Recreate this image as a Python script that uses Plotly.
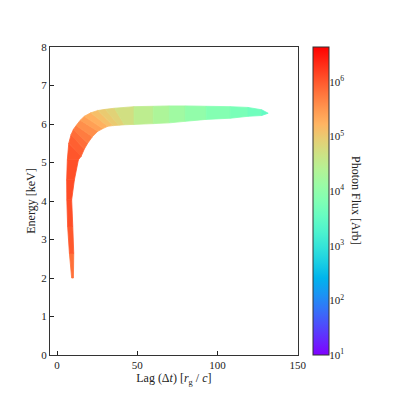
import numpy as np
import plotly.graph_objects as go

# Band of photon arrival: outer (upper/left) and inner (lower/right) edges
# one station per pair of edge points.
outer_lag = [9.1, 7.7, 6.6, 6.1, 6.0, 6.4, 7.3, 8.7, 10.2, 11.9, 14.5, 17.0, 21.0,
             25.4, 30.0, 35.8, 48.0, 60.0, 70.0, 80.0, 93.0, 108.0, 119.0, 127.5, 131.6]
outer_energy = [2.0, 2.64, 3.34, 4.03, 4.55, 5.07, 5.5, 5.72, 5.86, 5.96, 6.10, 6.20, 6.29,
                6.35, 6.38, 6.41, 6.45, 6.46, 6.47, 6.47, 6.46, 6.45, 6.43, 6.37, 6.28]
inner_lag = [10.2, 10.4, 9.8, 9.1, 10.8, 13.3, 15.0, 17.0, 19.1, 22.0, 25.4, 28.5, 31.6,
             35.0, 38.5, 42.0, 48.0, 60.0, 70.0, 80.0, 93.0, 108.0, 119.0, 127.5, 131.6]
inner_energy = [2.0, 2.64, 3.34, 4.03, 4.55, 5.07, 5.16, 5.35, 5.50, 5.67, 5.81, 5.88, 5.94,
                5.96, 5.97, 5.98, 5.99, 6.01, 6.03, 6.07, 6.12, 6.15, 6.20, 6.22, 6.28]
# log10 photon flux along the band
log_flux = [5.7, 5.95, 6.05, 6.1, 6.1, 6.05, 6.0, 5.9, 5.8, 5.65, 5.5, 5.35, 5.2,
            5.05, 4.95, 4.85, 4.6, 4.4, 4.25, 4.1, 3.95, 3.8, 3.7, 3.6, 3.4]

cbar_min, cbar_max = 1.0, 6.64
cbar_ticks = [1, 2, 3, 4, 5, 6]
cbar_ticktext = ["10<sup>%d</sup>" % n for n in cbar_ticks]


def rainbow(t):
    # matplotlib 'rainbow' colormap
    r = min(1.0, abs(2 * t - 0.5))
    g = np.sin(t * np.pi)
    b = np.cos(t * np.pi / 2)
    return "rgb(%d,%d,%d)" % (round(255 * r), round(255 * max(g, 0)), round(255 * max(b, 0)))


colorscale = [[t, rainbow(t)] for t in np.linspace(0, 1, 21)]

font = "Liberation Serif"
fig = go.Figure()

for i in range(len(outer_lag) - 1):
    val = 0.5 * (log_flux[i] + log_flux[i + 1])
    col = rainbow((val - cbar_min) / (cbar_max - cbar_min))
    fig.add_trace(go.Scatter(
        x=[outer_lag[i], outer_lag[i + 1], inner_lag[i + 1], inner_lag[i], outer_lag[i]],
        y=[outer_energy[i], outer_energy[i + 1], inner_energy[i + 1], inner_energy[i], outer_energy[i]],
        mode="lines", fill="toself", fillcolor=col,
        line=dict(color=col, width=0.8),
        hoverinfo="skip", showlegend=False,
    ))

# colorbar only
fig.add_trace(go.Scatter(
    x=[None], y=[None], mode="markers", yaxis="y2", showlegend=False,
    marker=dict(color=[cbar_min], cmin=cbar_min, cmax=cbar_max, colorscale=colorscale,
                showscale=True,
                colorbar=dict(x=0.850, xanchor="left", xpad=0, y=0.5, yanchor="middle",
                              len=1, ypad=0, thickness=16, outlinewidth=1,
                              outlinecolor="#333", showticklabels=False, ticks="")),
))

minor_vals = [n + np.log10(k) for n in range(1, 7) for k in range(2, 10)
              if n + np.log10(k) < cbar_max]

# page body adds 8px, so the figure is drawn 391 wide
fig.update_layout(
    width=391, height=391,
    margin=dict(l=42, r=40, t=39, b=44, autoexpand=False),
    paper_bgcolor="white", plot_bgcolor="white",
    font=dict(family=font, size=12, color="#222"),
    xaxis=dict(domain=[0, 0.8016], range=[-4.4, 150], tickvals=[0, 50, 100, 150],
               ticks="inside", ticklen=4, tickcolor="#222", showgrid=False, zeroline=False,
               showline=True, linecolor="#333", linewidth=1, mirror=True, automargin=False,
               title=dict(text="Lag (Δ<i>t</i>) [<i>r</i><sub>g</sub> / <i>c</i>]",
                          standoff=0, font=dict(size=12)),
               tickfont=dict(size=11)),
    yaxis=dict(range=[0, 8], dtick=1, ticks="inside", ticklen=4, tickcolor="#222",
               showgrid=False, zeroline=False, showline=True, linecolor="#333",
               linewidth=1, mirror=True, automargin=False,
               title=dict(text="Energy [keV]", standoff=3, font=dict(size=12)),
               tickfont=dict(size=11)),
    yaxis2=dict(overlaying="y", anchor="free", position=0.9006, side="right",
                range=[cbar_min, cbar_max], tickvals=cbar_ticks, ticktext=cbar_ticktext,
                ticks="inside", ticklen=5, tickcolor="#111", showgrid=False, automargin=False,
                zeroline=False, showline=False, tickfont=dict(size=11),
                minor=dict(tickvals=minor_vals, ticks="inside", ticklen=2.5,
                           tickcolor="#111")),
    annotations=[dict(text="Photon Flux [Arb]", textangle=90, x=0.99, xref="paper",
                      y=0.5, yref="paper", xanchor="center", yanchor="middle",
                      showarrow=False, font=dict(size=12))],
)

fig.write_html("out.html")
